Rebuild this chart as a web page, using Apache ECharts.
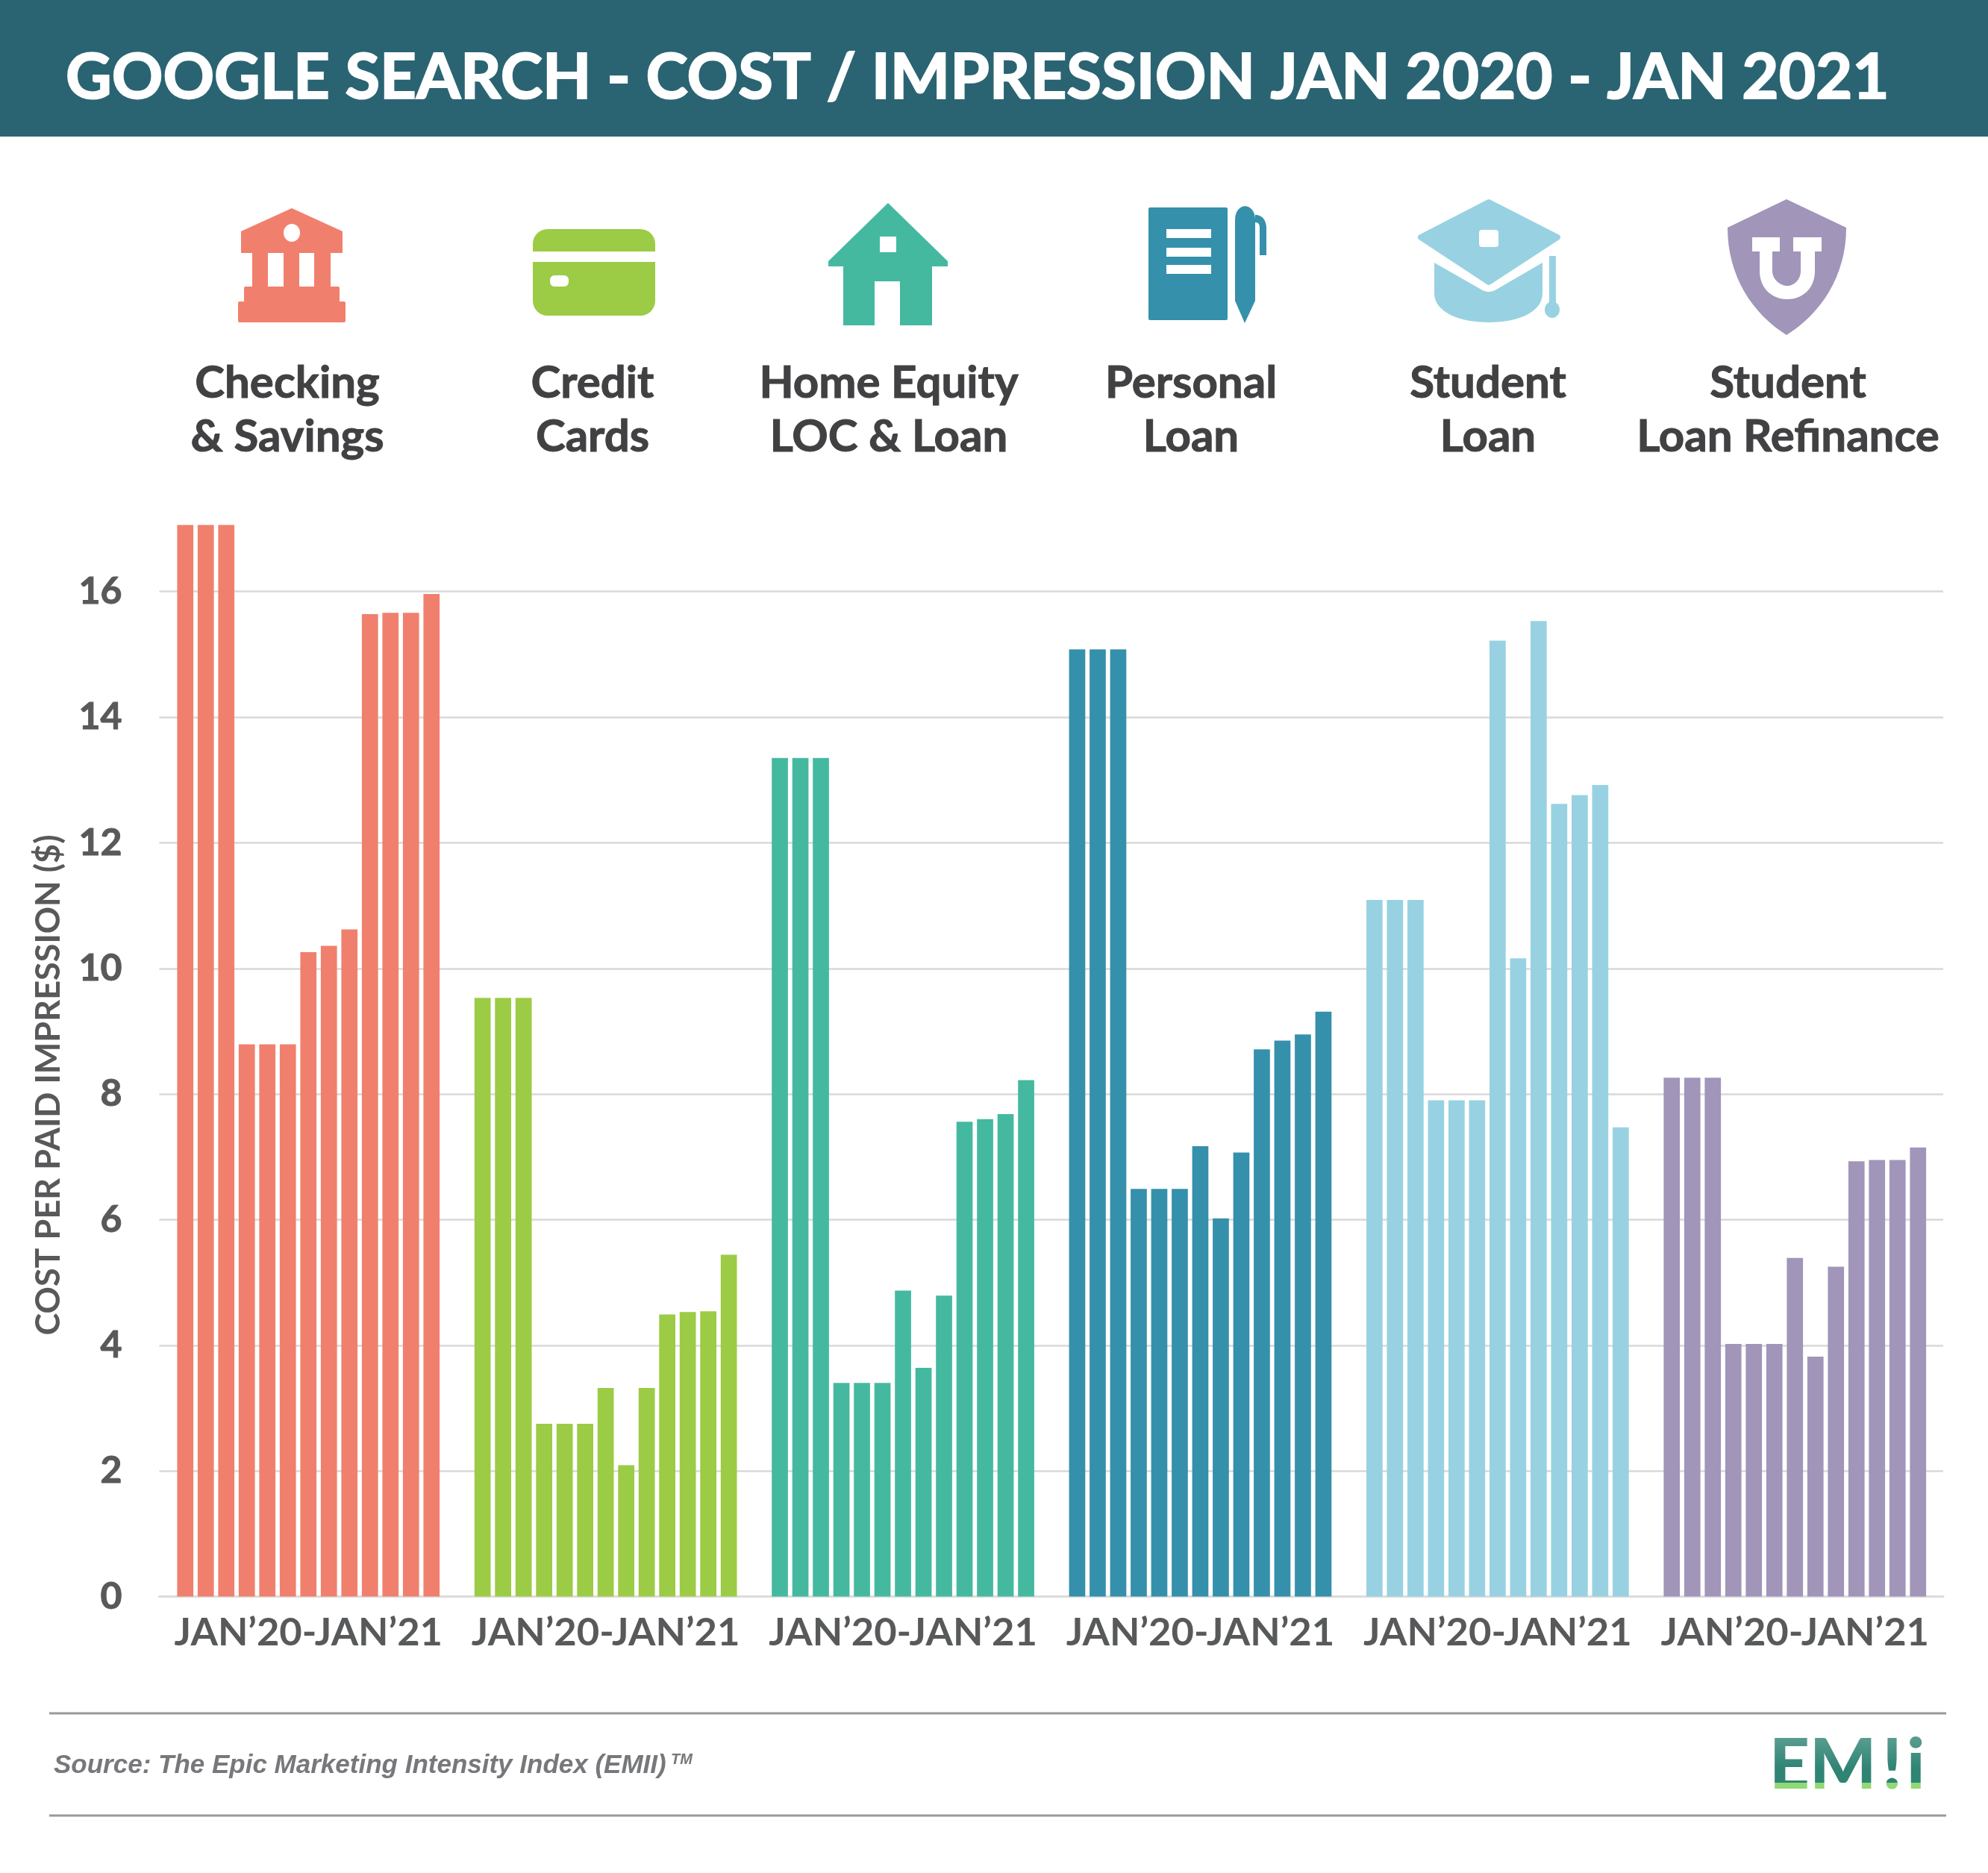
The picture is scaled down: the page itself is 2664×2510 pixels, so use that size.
<!DOCTYPE html>
<html>
<head>
<meta charset="utf-8">
<style>html,body{margin:0;padding:0;background:#fff}#main{width:2664px;height:2510px}</style>
<script src="https://cdn.jsdelivr.net/npm/echarts@6/dist/echarts.min.js"></script>
</head>
<body>
<div id="main"></div>
<script>
const months = ['Jan 20','Feb 20','Mar 20','Apr 20','May 20','Jun 20','Jul 20','Aug 20','Sep 20','Oct 20','Nov 20','Dec 20','Jan 21'];
const rangeLabel = 'JAN’20-JAN’21';
const panelNames = ['Checking\n& Savings','Credit\nCards','Home Equity\nLOC & Loan','Personal\nLoan','Student\nLoan','Student\nLoan Refinance'];
const panelColors = ['#F0806D','#9CCB45','#45B9A0','#3590AB','#98D2E2','#A195BA'];
const checking = [17.06,17.06,17.06,8.79,8.79,8.79,10.26,10.36,10.62,15.64,15.66,15.66,15.96];
const credit = [9.53,9.53,9.53,2.75,2.75,2.75,3.32,2.09,3.32,4.49,4.53,4.54,5.44];
const homeEquity = [13.35,13.35,13.35,3.40,3.40,3.40,4.87,3.64,4.79,7.56,7.60,7.68,8.22];
const personal = [15.08,15.08,15.08,6.49,6.49,6.49,7.17,6.02,7.07,8.71,8.85,8.95,9.31];
const student = [11.09,11.09,11.09,7.90,7.90,7.90,15.22,10.16,15.53,12.62,12.76,12.92,7.47];
const refinance = [8.26,8.26,8.26,4.02,4.02,4.02,5.39,3.82,5.25,6.93,6.95,6.95,7.15];
const panelValues = [checking, credit, homeEquity, personal, student, refinance];

const labelCenters = [385, 794, 1191, 1596, 1994, 2396];
const yMax = 17.06;
const gridTop = 703.5;
const gridBottom = 370.5;
const textDark = '#414042';
const textAxis = '#58595B';

const chart = echarts.init(document.getElementById('main'));

// shape helpers for the header, icons, rules
const rect = (x, y, w, h, fill, r) => ({ type: 'rect', shape: { x, y, width: w, height: h, r: r || 0 }, style: { fill } });
const poly = (points, fill, stroke, lineWidth) => ({ type: 'polygon', shape: { points }, style: { fill, stroke, lineWidth, lineJoin: 'round' } });
const ell = (cx, cy, rx, ry, fill) => ({ type: 'ellipse', shape: { cx, cy, rx, ry }, style: { fill } });
const hline = (y) => rect(66, y - 1.5, 2542, 3, '#999999');
// the graphic component has no svg path type, so curves get sampled into polygon points
const curve = (p0, c1, c2, p1) => {
  const pts = [];
  for (let k = 0; k <= 16; k++) {
    const t = k / 16, u = 1 - t;
    pts.push([0, 1].map((a) => u * u * u * p0[a] + 3 * u * u * t * c1[a] + 3 * u * t * t * c2[a] + t * t * t * p1[a]));
  }
  return pts;
};
const logoLetter = (text, x) => ({ type: 'text', style: { text, x, y: 2414, fill: '#2F8474', font: '900 94px Lato', textVerticalAlign: 'bottom' } });

const [cBank, cCard, cHouse, cDoc, cCap, cShield] = panelColors;

const graphics = [
  rect(0, 0, 2664, 183, '#2A6473'),
  // bank
  poly([[391, 279], [459, 310], [459, 339], [323, 339], [323, 310]], cBank),
  ell(391, 312, 11, 12, '#fff'),
  rect(338, 339, 21, 46, cBank), rect(380, 339, 21, 46, cBank), rect(421, 339, 22, 46, cBank),
  rect(327, 384, 128, 21, cBank, 2), rect(319, 404, 144, 28, cBank, 2),
  // card
  rect(714, 307, 164, 30, cCard, [20, 20, 0, 0]),
  rect(714, 351, 164, 72, cCard, [0, 0, 20, 20]),
  rect(737, 369, 25, 15, '#fff', 6),
  // house
  poly([[1190, 272], [1270, 350], [1270, 357], [1249, 357], [1249, 436], [1206, 436], [1206, 377], [1172, 377], [1172, 436], [1130, 436], [1130, 357], [1110, 357], [1110, 350]], cHouse),
  rect(1179, 317, 22, 21, '#fff'),
  // document and pen
  rect(1539, 278, 106, 151, cDoc, 2),
  rect(1563, 307, 60, 12, '#fff'), rect(1563, 332, 60, 12, '#fff'), rect(1563, 355, 60, 12, '#fff'),
  poly(curve([1655, 295], [1655, 270], [1682, 270], [1682, 295]).concat([[1682, 403], [1668, 433], [1655, 403]]), cDoc),
  poly(curve([1682, 288], [1692, 288], [1697, 296], [1697, 306]).concat([[1697, 342], [1688, 342]], curve([1688, 306], [1688, 300], [1686, 298], [1682, 298])), cDoc),
  // mortarboard
  poly([[1995, 271], [2087, 318], [1995, 378], [1904, 318]], cCap, cCap, 8),
  rect(1982, 308, 26, 23, '#fff', 4),
  poly([[1922, 352]].concat(curve([1985, 388], [1991, 392], [1999, 392], [2005, 388]), [[2067, 352], [2067, 393]], curve([2067, 393], [2067, 418], [2035, 432], [1995, 432]), curve([1995, 432], [1955, 432], [1922, 418], [1922, 393])), cCap),
  rect(2076, 343, 9, 64, cCap),
  ell(2080, 415, 10, 11, cCap),
  // shield
  poly([[2394, 267]].concat(curve([2474, 305], [2474, 370], [2440, 420], [2394, 449]), curve([2394, 449], [2348, 420], [2315, 370], [2315, 305])), cShield),
  poly([[2358, 330]].concat(curve([2358, 363], [2358, 388], [2376, 401], [2395, 401]), curve([2395, 401], [2414, 401], [2432, 388], [2432, 363]), [[2432, 330], [2413, 330]], curve([2413, 363], [2413, 375], [2404, 383], [2395, 383]), curve([2395, 383], [2386, 383], [2375, 375], [2375, 363]), [[2375, 330]]), '#fff'),
  rect(2348, 318, 37, 19, '#fff'), rect(2403, 318, 38, 19, '#fff'),
  // y axis title sits lower than the grid middle, so it is placed by hand
  { type: 'text', x: 65, y: 1454, rotation: Math.PI / 2, style: { text: 'COST PER PAID IMPRESSION ($)', x: 0, y: 0, fill: textAxis, font: 'bold 45px Lato', textAlign: 'center', textVerticalAlign: 'middle' } },
  // footer
  hline(2296), hline(2433),
  { type: 'text', style: { text: 'Source: The Epic Marketing Intensity Index (EMII)', x: 72, y: 2366, fill: '#77787B', font: 'italic bold 35px "Liberation Sans"', textVerticalAlign: 'middle' } },
  { type: 'text', style: { text: 'TM', x: 899, y: 2358, fill: '#77787B', font: 'italic bold 20px "Liberation Sans"', textVerticalAlign: 'middle' } },
  logoLetter('EM', 2371), logoLetter('!', 2522), logoLetter('i', 2555),
  { type: 'rect', shape: { x: 2370, y: 2325, width: 215, height: 45 }, style: { fill: { type: 'linear', x: 0, y: 0, x2: 0, y2: 1, colorStops: [{ offset: 0, color: 'rgba(255,255,255,0.22)' }, { offset: 1, color: 'rgba(255,255,255,0)' }] } } },
  { type: 'rect', shape: { x: 2370, y: 2389, width: 215, height: 10 }, style: { fill: '#78B000', blend: 'screen' } }
];

panelNames.forEach((name, i) => {
  graphics.push({ type: 'text', style: { text: name, x: labelCenters[i], y: 550, fill: textDark, stroke: textDark, lineWidth: 1, font: 'bold 60px Lato', textAlign: 'center', textVerticalAlign: 'middle', lineHeight: 72 } });
});

// grid 0 only carries the y labels and the long grid lines, bars sit in the other six
const grids = [{ left: 213.5, right: 60, top: gridTop, bottom: gridBottom }];
const xAxes = [{ type: 'category', gridIndex: 0, data: [''], axisTick: { show: false }, axisLabel: { show: false }, axisLine: { lineStyle: { color: '#DCDCDC', width: 3 } } }];
const yAxes = [{
  type: 'value', gridIndex: 0, min: 0, max: yMax, interval: 2,
  axisLine: { show: false }, axisTick: { show: false },
  axisLabel: { fontFamily: 'Lato', fontWeight: 'bold', fontSize: 50, color: textAxis, textBorderColor: textAxis, textBorderWidth: 1, margin: 50, showMaxLabel: false },
  splitLine: { showMaxLine: false, lineStyle: { color: '#D9D9D9', width: 2.5 } }
}];
const series = [];

panelValues.forEach((values, i) => {
  const idx = i + 1;
  grids.push({ left: 234.5 + 398.4 * i, width: 357.5, top: gridTop, bottom: gridBottom });
  xAxes.push({
    type: 'category', gridIndex: idx, data: months,
    name: rangeLabel, nameLocation: 'middle', nameGap: 22,
    nameTextStyle: { fontFamily: 'Lato', fontWeight: 'bold', fontSize: 52.5, color: textAxis, verticalAlign: 'top' },
    axisLine: { show: false }, axisTick: { show: false }, axisLabel: { show: false }
  });
  yAxes.push({ type: 'value', gridIndex: idx, min: 0, max: yMax, show: false, splitLine: { show: false } });
  series.push({
    type: 'bar', xAxisIndex: idx, yAxisIndex: idx, data: values, barWidth: 21.7,
    itemStyle: { color: panelColors[i] }, silent: true
  });
});

chart.setOption({
  animation: false,
  backgroundColor: '#fff',
  title: {
    text: 'GOOGLE SEARCH - COST / IMPRESSION JAN 2020 - JAN 2021',
    left: 83, top: 57,
    textStyle: { fontFamily: 'Lato', fontWeight: 'bold', fontSize: 85, color: '#fff', textBorderColor: '#fff', textBorderWidth: 2 }
  },
  grid: grids,
  xAxis: xAxes,
  yAxis: yAxes,
  series,
  graphic: { elements: graphics }
});
</script>
</body>
</html>
